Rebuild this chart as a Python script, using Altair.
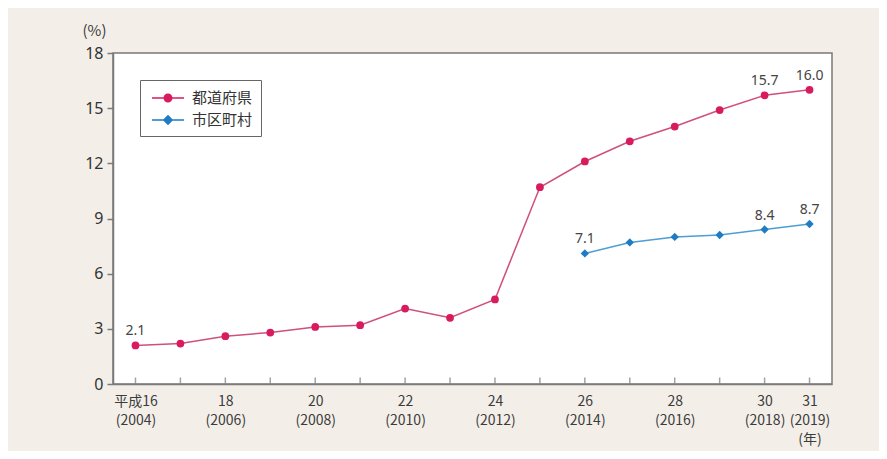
import altair as alt
import pandas as pd

years = list(range(2004, 2020))
pref_values = [2.1, 2.2, 2.6, 2.8, 3.1, 3.2, 4.1, 3.6, 4.6, 10.7, 12.1, 13.2, 14.0, 14.9, 15.7, 16.0]
muni_years = [2014, 2015, 2016, 2017, 2018, 2019]
muni_values = [7.1, 7.7, 8.0, 8.1, 8.4, 8.7]
series_names = ["都道府県", "市区町村"]
series_colors = ["#d81b5e", "#1f7cc4"]
line_colors = ["#d0507c", "#4d9fd2"]
tick_labels = [
    ["平成16", "(2004)"], [""], ["18", "(2006)"], [""], ["20", "(2008)"], [""],
    ["22", "(2010)"], [""], ["24", "(2012)"], [""], ["26", "(2014)"], [""],
    ["28", "(2016)"], [""], ["30", "(2018)"], ["31", "(2019)", "(年)"],
]
pref_label_years = [2004, 2018, 2019]
muni_label_years = [2014, 2018, 2019]

pref = pd.DataFrame({"year": years, "value": pref_values, "series": series_names[0]})
muni = pd.DataFrame({"year": muni_years, "value": muni_values, "series": series_names[1]})
allv = pd.concat([pref, muni], ignore_index=True)
ticks_df = pd.DataFrame({"year": years})

label_arr = "[" + ",".join("[" + ",".join("'" + s + "'" for s in lab) + "]" for lab in tick_labels) + "]"

xscale = alt.Scale(domain=[2003.5, 2019.5], nice=False, zero=False)
yscale = alt.Scale(domain=[0, 18], nice=False)

x_axis = alt.Axis(
    values=years, labelExpr=label_arr + "[datum.value - 2004]", ticks=False,
    labelOverlap=False, labelFontSize=14, labelColor="#3c3c3c", labelPadding=10,
    labelLineHeight=19, labelFont="Noto Sans CJK JP", grid=False, title=None,
    domainColor="#7a7a7a", domainWidth=1.5, labelFlush=False,
)
y_axis = alt.Axis(
    values=[0, 3, 6, 9, 12, 15, 18], grid=False, title="(%)", titleAngle=0,
    titleX=-19, titleY=-23, titleAlign="center", titleBaseline="middle",
    titleFontSize=15, titleFontWeight="normal", titleColor="#3c3c3c",
    titleFont="Noto Sans CJK JP",
    labelFontSize=16, labelColor="#333", labelFont="Noto Sans", tickSize=6,
    tickColor="#7a7a7a", tickWidth=1.5, labelPadding=4,
    domainColor="#7a7a7a", domainWidth=1.5,
)

X = alt.X("year:Q", scale=xscale, axis=x_axis)
Y = alt.Y("value:Q", scale=yscale, axis=y_axis)

pref_line = alt.Chart(pref).mark_line(color=line_colors[0], strokeWidth=1.5).encode(x=X, y=Y)
pref_pts = alt.Chart(pref).mark_point(filled=True, shape="circle", size=60, color=series_colors[0], opacity=1).encode(x=X, y=Y)
muni_line = alt.Chart(muni).mark_line(color=line_colors[1], strokeWidth=1.5).encode(x=X, y=Y)
muni_pts = alt.Chart(muni).mark_point(filled=True, shape="diamond", size=70, color=series_colors[1], opacity=1).encode(x=X, y=Y)

xticks = alt.Chart(ticks_df).mark_tick(orient="vertical", color="#7a7a7a", size=6, thickness=1.5).encode(
    x=X, y=alt.value(327.5)
)

pref_lab = pref[pref["year"].isin(pref_label_years)]
muni_lab = muni[muni["year"].isin(muni_label_years)]
lab_df = pd.concat([pref_lab, muni_lab], ignore_index=True)
lab_df["text"] = lab_df["value"].map(lambda v: f"{v:.1f}")
lab_df["dx"] = [13, 0, -3, 0, 0, 0]

labels = alt.Chart(lab_df).mark_text(fontSize=14, color="#444", baseline="bottom", font="Noto Sans", dy=-7).encode(
    x=X, y=Y, text="text:N", xOffset=alt.XOffset("dx:Q", scale=None)
)

legend_paths = [
    "M-1.6,-0.07H1.6V0.07H-1.6Z M-0.45,0A0.45,0.45,0,1,1,0.45,0A0.45,0.45,0,1,1,-0.45,0Z",
    "M-1.6,-0.07H1.6V0.07H-1.6Z M0,-0.52L0.52,0L0,0.52L-0.52,0Z",
]
legend_layer = alt.Chart(allv).mark_point(filled=True, opacity=1).encode(
    x=X, y=Y,
    color=alt.Color("series:N", scale=alt.Scale(domain=series_names, range=series_colors),
                    legend=alt.Legend(title=None, orient="none", legendX=27, legendY=27,
                                      strokeColor="#666", padding=8, symbolSize=400,
                                      symbolOffset=10, labelOffset=14,
                                      labelFontSize=15, labelColor="#333",
                                      labelFont="Noto Sans CJK JP", rowPadding=4,
                                      symbolStrokeWidth=0, fillColor="white")),
    shape=alt.Shape("series:N", scale=alt.Scale(domain=series_names, range=legend_paths)),
).transform_filter("false")

chart = alt.layer(xticks, pref_line, muni_line, pref_pts, muni_pts, labels, legend_layer).properties(
    width=719, height=331,
    padding={"left": 105, "top": 45, "right": 47, "bottom": 67},
    autosize=alt.AutoSizeParams(type="none"),
    background="#f3efe8",
).configure_view(fill="white", stroke="#7a7a7a", strokeWidth=1.5)

chart.save("out.html", embed_options={"renderer": "svg", "actions": False})
